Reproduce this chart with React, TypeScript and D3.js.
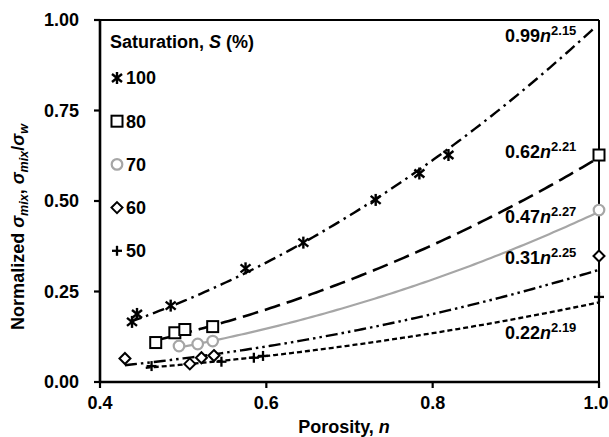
import React from "react";
import * as d3 from "d3";

// ---- data ----
const nS100 = [0.4385, 0.4445, 0.485, 0.575, 0.6445, 0.7315, 0.784, 0.819];
const vS100 = [0.166, 0.188, 0.211, 0.314, 0.385, 0.503, 0.576, 0.627];
const nS80 = [0.467, 0.49, 0.502, 0.5355, 1.0];
const vS80 = [0.109, 0.136, 0.145, 0.153, 0.627];
const nS70 = [0.495, 0.5175, 0.5355, 1.0];
const vS70 = [0.0995, 0.105, 0.113, 0.475];
const nS60 = [0.43, 0.508, 0.522, 0.537, 1.0];
const vS60 = [0.065, 0.05, 0.067, 0.073, 0.348];
const nS50 = [0.462, 0.546, 0.585, 0.596, 1.0];
const vS50 = [0.044, 0.056, 0.067, 0.072, 0.235];

const saturations = ["100", "80", "70", "60", "50"];
const fitA = [0.99, 0.62, 0.47, 0.31, 0.22];
const fitB = [2.15, 2.21, 2.27, 2.25, 2.19];
const fitStart = [0.436, 0.465, 0.495, 0.43, 0.455];
const fitLabelY = [0.94, 0.62, 0.44, 0.325, 0.12];

const xTicks = [0.4, 0.6, 0.8, 1.0];
const yTicks = [0, 0.25, 0.5, 0.75, 1.0];

const W = 609;
const H = 437;
const FONT = "'Liberation Sans', Arial, Helvetica, sans-serif";

type Kind = "star" | "square" | "circle" | "diamond" | "plus";
const kinds: Kind[] = ["star", "square", "circle", "diamond", "plus"];
const dashes = ["12,5,2.5,5", "16,7", "", "12,4,2.5,4,2.5,4", "5,3"];
const colors = ["#000", "#000", "#a6a6a6", "#000", "#000"];
const widths = [2.4, 2.6, 2.2, 2.4, 2.3];

function Marker({ kind, x, y }: { kind: Kind; x: number; y: number }) {
  const s = 5;
  if (kind === "star")
    return (
      <g stroke="#000" strokeWidth={2.4} transform={`translate(${x},${y})`}>
        <line x1={0} y1={-s - 1} x2={0} y2={s + 1} />
        <line x1={-s} y1={-s + 1} x2={s} y2={s - 1} />
        <line x1={-s} y1={s - 1} x2={s} y2={-s + 1} />
      </g>
    );
  if (kind === "square")
    return <rect x={x - 5.5} y={y - 5.5} width={11} height={11} fill="#fff" stroke="#000" strokeWidth={2} />;
  if (kind === "circle")
    return <circle cx={x} cy={y} r={5.3} fill="#fff" stroke="#a6a6a6" strokeWidth={2.2} />;
  if (kind === "diamond")
    return (
      <path
        d={`M${x},${y - 5.5}L${x + 5.5},${y}L${x},${y + 5.5}L${x - 5.5},${y}Z`}
        fill="#fff"
        stroke="#000"
        strokeWidth={2}
      />
    );
  return (
    <g stroke="#000" strokeWidth={2.3}>
      <line x1={x - s} y1={y} x2={x + s} y2={y} />
      <line x1={x} y1={y - s} x2={x} y2={y + s} />
    </g>
  );
}

export default function App() {
  const x = d3.scaleLinear().domain([0.4, 1.0]).range([100, 599]);
  const y = d3.scaleLinear().domain([0, 1]).range([382, 20]);

  const series = [
    { n: nS100, v: vS100 },
    { n: nS80, v: vS80 },
    { n: nS70, v: vS70 },
    { n: nS60, v: vS60 },
    { n: nS50, v: vS50 },
  ];

  const line = d3
    .line<number>()
    .x((d) => x(d[0]))
    .y((d) => y(d[1]));

  const fitPaths = fitA.map((a, i) => {
    const ns = d3.range(fitStart[i], 1.0001, 0.005);
    const pts = ns.map((n) => [n, a * Math.pow(n, fitB[i])] as any);
    return line(pts as any) as string;
  });

  const fs = 18;

  return (
    <svg
      width={W}
      height={H}
      style={{ position: "absolute", left: 0, top: 0, background: "#fff" }}
      fontFamily={FONT}
      fontWeight="bold"
    >
      <rect width={W} height={H} fill="#fff" />

      {/* frame */}
      <line x1={x(0.4)} y1={y(1)} x2={x(1)} y2={y(1)} stroke="#000" strokeWidth={2} />
      <line x1={x(1)} y1={y(1)} x2={x(1)} y2={y(0)} stroke="#000" strokeWidth={2} />
      <line x1={x(0.4)} y1={y(1) - 1} x2={x(0.4)} y2={y(0) + 1} stroke="#000" strokeWidth={2.6} />
      <line x1={x(0.4) - 1} y1={y(0)} x2={x(1) + 1} y2={y(0)} stroke="#000" strokeWidth={2.6} />

      {/* y ticks */}
      {yTicks.map((t) => (
        <g key={"y" + t}>
          <line x1={x(0.4) - 6} x2={x(0.4)} y1={y(t)} y2={y(t)} stroke="#000" strokeWidth={2.2} />
          <text x={79} y={y(t)} dy="0.35em" textAnchor="end" fontSize={fs}>
            {d3.format(".2f")(t)}
          </text>
        </g>
      ))}
      {/* x ticks */}
      {xTicks.map((t) => (
        <g key={"x" + t}>
          <line x1={x(t)} x2={x(t)} y1={y(0)} y2={y(0) + 6} stroke="#000" strokeWidth={2.2} />
          <text x={t === 1 ? 596 : x(t)} y={409} textAnchor="middle" fontSize={fs}>
            {d3.format(".1f")(t)}
          </text>
        </g>
      ))}

      {/* axis titles */}
      <text x={344} y={433} textAnchor="middle" fontSize={fs}>
        Porosity, <tspan fontStyle="italic">n</tspan>
      </text>
      <text transform="translate(24,227) rotate(-90)" textAnchor="middle" fontSize={18}>
        Normalized <tspan fontStyle="italic">σ</tspan>
        <tspan fontStyle="italic" fontSize={12.5} dy={4}>mix</tspan>
        <tspan dy={-4}>, </tspan>
        <tspan fontStyle="italic">σ</tspan>
        <tspan fontStyle="italic" fontSize={12.5} dy={4}>mix</tspan>
        <tspan dy={-4}>/</tspan>
        <tspan fontStyle="italic">σ</tspan>
        <tspan fontStyle="italic" fontSize={12.5} dy={4}>w</tspan>
      </text>

      {/* fit curves */}
      {fitPaths.map((p, i) => (
        <path
          key={"f" + i}
          d={p}
          fill="none"
          stroke={colors[i]}
          strokeWidth={widths[i]}
          strokeDasharray={dashes[i] || undefined}
        />
      ))}

      {/* fit labels */}
      {fitA.map((a, i) => (
        <text key={"l" + i} x={505} y={y(fitLabelY[i])} fontSize={fs}>
          {d3.format(".2f")(a)}
          <tspan fontStyle="italic">n</tspan>
          <tspan fontSize={13} dy={-7}>
            {d3.format(".2f")(fitB[i])}
          </tspan>
        </text>
      ))}

      {/* data markers */}
      {series.map((s, i) =>
        s.n.map((n, j) => <Marker key={`m${i}-${j}`} kind={kinds[i]} x={x(n)} y={y(s.v[j])} />)
      )}

      {/* legend */}
      <text x={110} y={48} fontSize={fs}>
        Saturation, <tspan fontStyle="italic">S</tspan> (%)
      </text>
      {saturations.map((s, i) => {
        const ly = 78 + i * 43.2;
        return (
          <g key={"lg" + s}>
            <Marker kind={kinds[i]} x={117} y={ly} />
            <text x={126} y={ly} dy="0.36em" fontSize={fs}>
              {s}
            </text>
          </g>
        );
      })}
    </svg>
  );
}
